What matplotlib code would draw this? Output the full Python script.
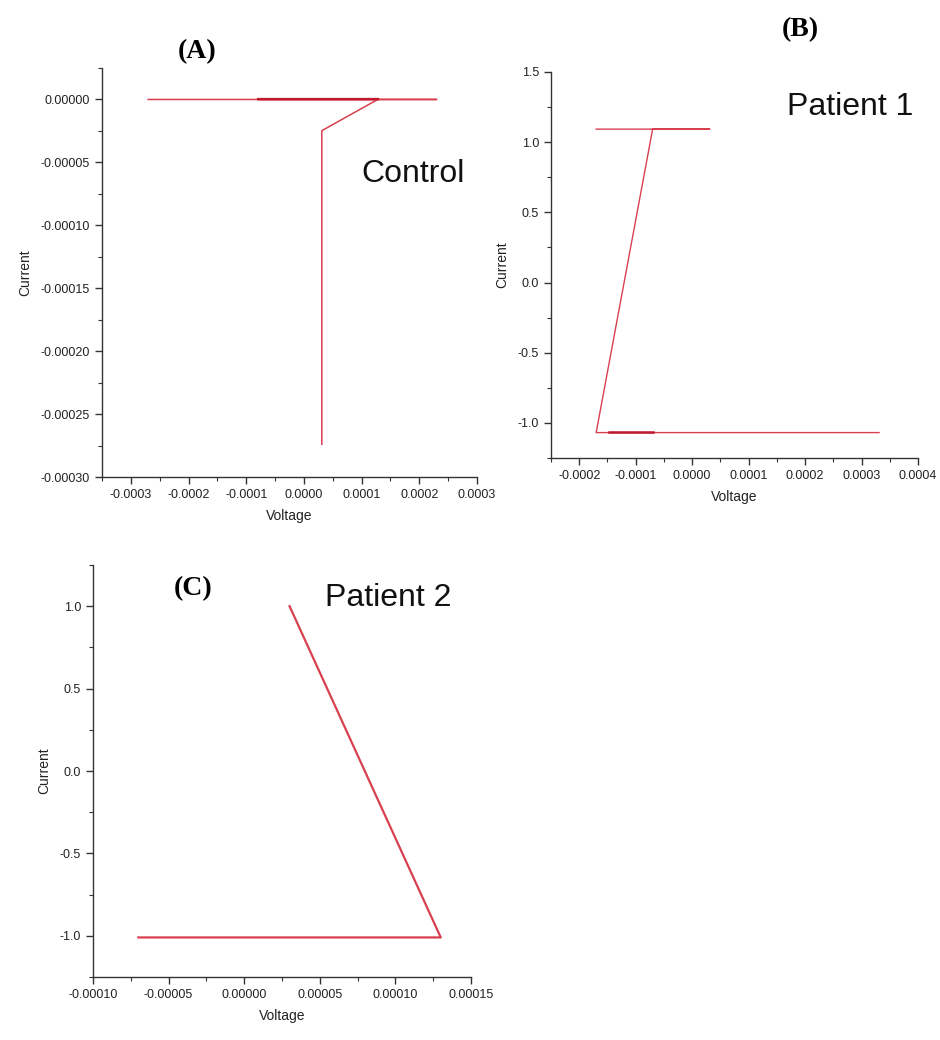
import matplotlib

matplotlib.use("agg")
import matplotlib.pyplot as plt
from matplotlib.ticker import FuncFormatter, MultipleLocator

# Panel A - Control
a_voltage = [-0.00027, 0.00023, -0.00008, 0.000128, 0.000031, 0.000031]
a_current = [0.0, 0.0, 0.0, 0.0, -0.0000248, -0.000274]
a_over_voltage = [-0.00008, 0.000128]
a_over_current = [0.0, 0.0]

# Panel B - Patient 1
b_voltage = [-0.00017, 0.000031, -0.00007, -0.00017, 0.000331]
b_current = [1.093, 1.093, 1.093, -1.069, -1.069]
b_over_voltage = [-0.000147, -0.000069]
b_over_current = [-1.064, -1.064]

# Panel C - Patient 2
c_voltage = [0.00003, 0.00013, -0.00007]
c_current = [1.0, -1.01, -1.01]

W, H = 940, 1040
LINE = "#d8404f"
DARK = "#c0182e"
AXC = "#333333"

fig = plt.figure(figsize=(W / 100, H / 100), dpi=100)
plt.rcParams["font.family"] = ["Liberation Sans", "DejaVu Sans"]


def fmt(decimals, step):
    def f(v, pos):
        if abs(v) < step * 1e-3:
            v = 0.0
        return f"{v:.{decimals}f}"
    return FuncFormatter(f)


def make_axes(left, top, right, bottom):
    ax = fig.add_axes([left / W, 1 - bottom / H, (right - left) / W, (bottom - top) / H])
    for s in ["top", "right"]:
        ax.spines[s].set_visible(False)
    for s in ["left", "bottom"]:
        ax.spines[s].set_color(AXC)
        ax.spines[s].set_linewidth(1.0)
    ax.tick_params(which="major", direction="out", length=5, width=1.0, colors=AXC,
                   labelsize=9, labelcolor="#222222")
    ax.tick_params(which="minor", direction="out", length=3, width=0.8, colors=AXC)
    return ax


def style(ax, xlim, ylim, xstep, ystep, xdec, ydec):
    ax.set_xlim(*xlim)
    ax.set_ylim(*ylim)
    ax.xaxis.set_major_locator(MultipleLocator(xstep))
    ax.xaxis.set_minor_locator(MultipleLocator(xstep / 2))
    ax.yaxis.set_major_locator(MultipleLocator(ystep))
    ax.yaxis.set_minor_locator(MultipleLocator(ystep / 2))
    ax.xaxis.set_major_formatter(fmt(xdec, xstep))
    ax.yaxis.set_major_formatter(fmt(ydec, ystep))
    ax.set_xlabel("Voltage", fontsize=10, color="#222222", labelpad=6)
    ax.set_ylabel("Current", fontsize=10, color="#222222", labelpad=6)


# (A)
ax1 = make_axes(102, 68, 477, 477)
ax1.plot(a_voltage, a_current, color=LINE, lw=1.1)
ax1.plot(a_over_voltage, a_over_current, color=DARK, lw=1.6)
style(ax1, (-0.00035, 0.0003), (-0.0003, 0.000025), 0.0001, 0.00005, 4, 5)
ax1.text(0.83, 0.74, "Control", transform=ax1.transAxes, fontsize=23,
         ha="center", va="center", color="#111111")

# (B)
ax2 = make_axes(551, 72, 918, 458)
ax2.plot(b_voltage, b_current, color=LINE, lw=1.0)
ax2.plot(b_over_voltage, b_over_current, color=DARK, lw=1.8)
style(ax2, (-0.00025, 0.0004), (-1.25, 1.5), 0.0001, 0.5, 4, 1)
ax2.text(0.815, 0.91, "Patient 1", transform=ax2.transAxes, fontsize=23,
         ha="center", va="center", color="#111111")

# (C)
ax3 = make_axes(93, 565, 471, 977)
ax3.plot(c_voltage, c_current, color=LINE, lw=1.6)
style(ax3, (-0.0001, 0.00015), (-1.25, 1.25), 0.00005, 0.5, 5, 1)
ax3.text(0.78, 0.92, "Patient 2", transform=ax3.transAxes, fontsize=23,
         ha="center", va="center", color="#111111")

# panel letters
for label, x, y in [("(A)", 197, 52), ("(B)", 800, 30), ("(C)", 193, 589)]:
    fig.text(x / W, 1 - y / H, label, fontsize=20, fontweight="bold",
             family=["Liberation Serif", "DejaVu Serif"], ha="center", va="center")

fig.savefig("out.png", dpi=100, facecolor="white")
